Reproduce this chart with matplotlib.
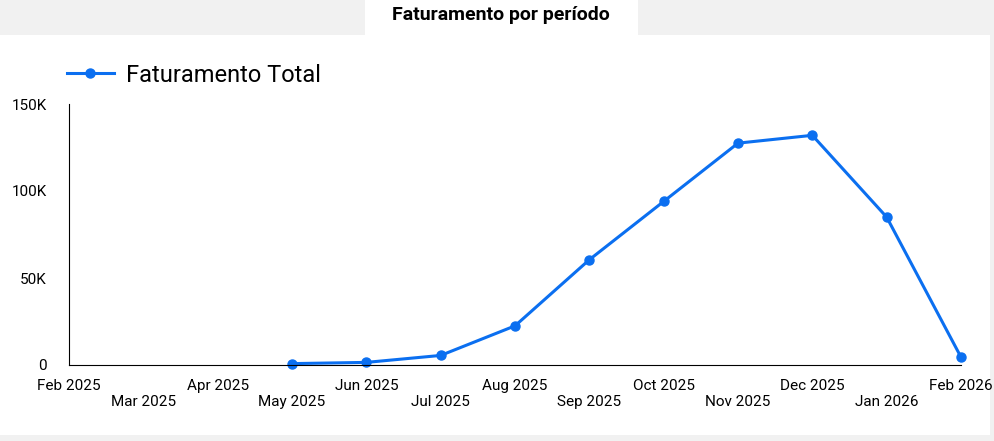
import matplotlib.pyplot as plt
from matplotlib.patches import Rectangle

plt.rcParams['font.family'] = ['Roboto', 'DejaVu Sans']

months = ["Feb 2025", "Mar 2025", "Apr 2025", "May 2025", "Jun 2025", "Jul 2025",
          "Aug 2025", "Sep 2025", "Oct 2025", "Nov 2025", "Dec 2025", "Jan 2026", "Feb 2026"]
data_months = list(range(3, 13))
faturamento = [800, 1500, 5500, 22500, 60500, 94000, 127500, 132000, 85000, 4500]

W, H = 994, 441
fig = plt.figure(figsize=(W / 100, H / 100), dpi=100)
fig.patch.set_facecolor("#f1f1f1")

# white card and title tab
fig.add_artist(Rectangle((0, 6 / H), 990 / W, 1 - 41 / H, transform=fig.transFigure,
                         facecolor="white", edgecolor="none", zorder=0))
fig.add_artist(Rectangle((365 / W, 1 - 35 / H), 273 / W, 35 / H, transform=fig.transFigure,
                         facecolor="white", edgecolor="none", zorder=0))
fig.text(501 / W, 1 - 15 / H, "Faturamento por período", ha="center", va="center",
         fontsize=14, fontweight="bold")

ax = fig.add_axes([69 / W, 1 - 365 / H, (961 - 69) / W, (365 - 104) / H])
ax.set_facecolor("none")
ax.plot(data_months, faturamento, color="#0b6ff0", lw=2.2, marker="o", ms=6.5,
        label="Faturamento Total", clip_on=False)
ax.set_xlim(0, 12)
ax.set_ylim(0, 150000)
ax.set_yticks([0, 50000, 100000, 150000])
ax.set_yticklabels(["0", "50K", "100K", "150K"])
ax.set_xticks(range(13))
ax.set_xticklabels([m if i % 2 == 0 else "\n" + m for i, m in enumerate(months)])
ax.tick_params(length=0, labelsize=11)
ax.tick_params(axis="x", pad=10)
ax.tick_params(axis="y", pad=16)
for s in ["top", "right"]:
    ax.spines[s].set_visible(False)
ax.spines["left"].set_color("black")
ax.spines["bottom"].set_color("black")
ax.legend(loc="lower left", bbox_to_anchor=(-0.013, 1.03), frameon=False, fontsize=17,
          handlelength=2.0, handletextpad=0.5, borderaxespad=0)

fig.savefig("out.png", dpi=100, facecolor=fig.get_facecolor())
